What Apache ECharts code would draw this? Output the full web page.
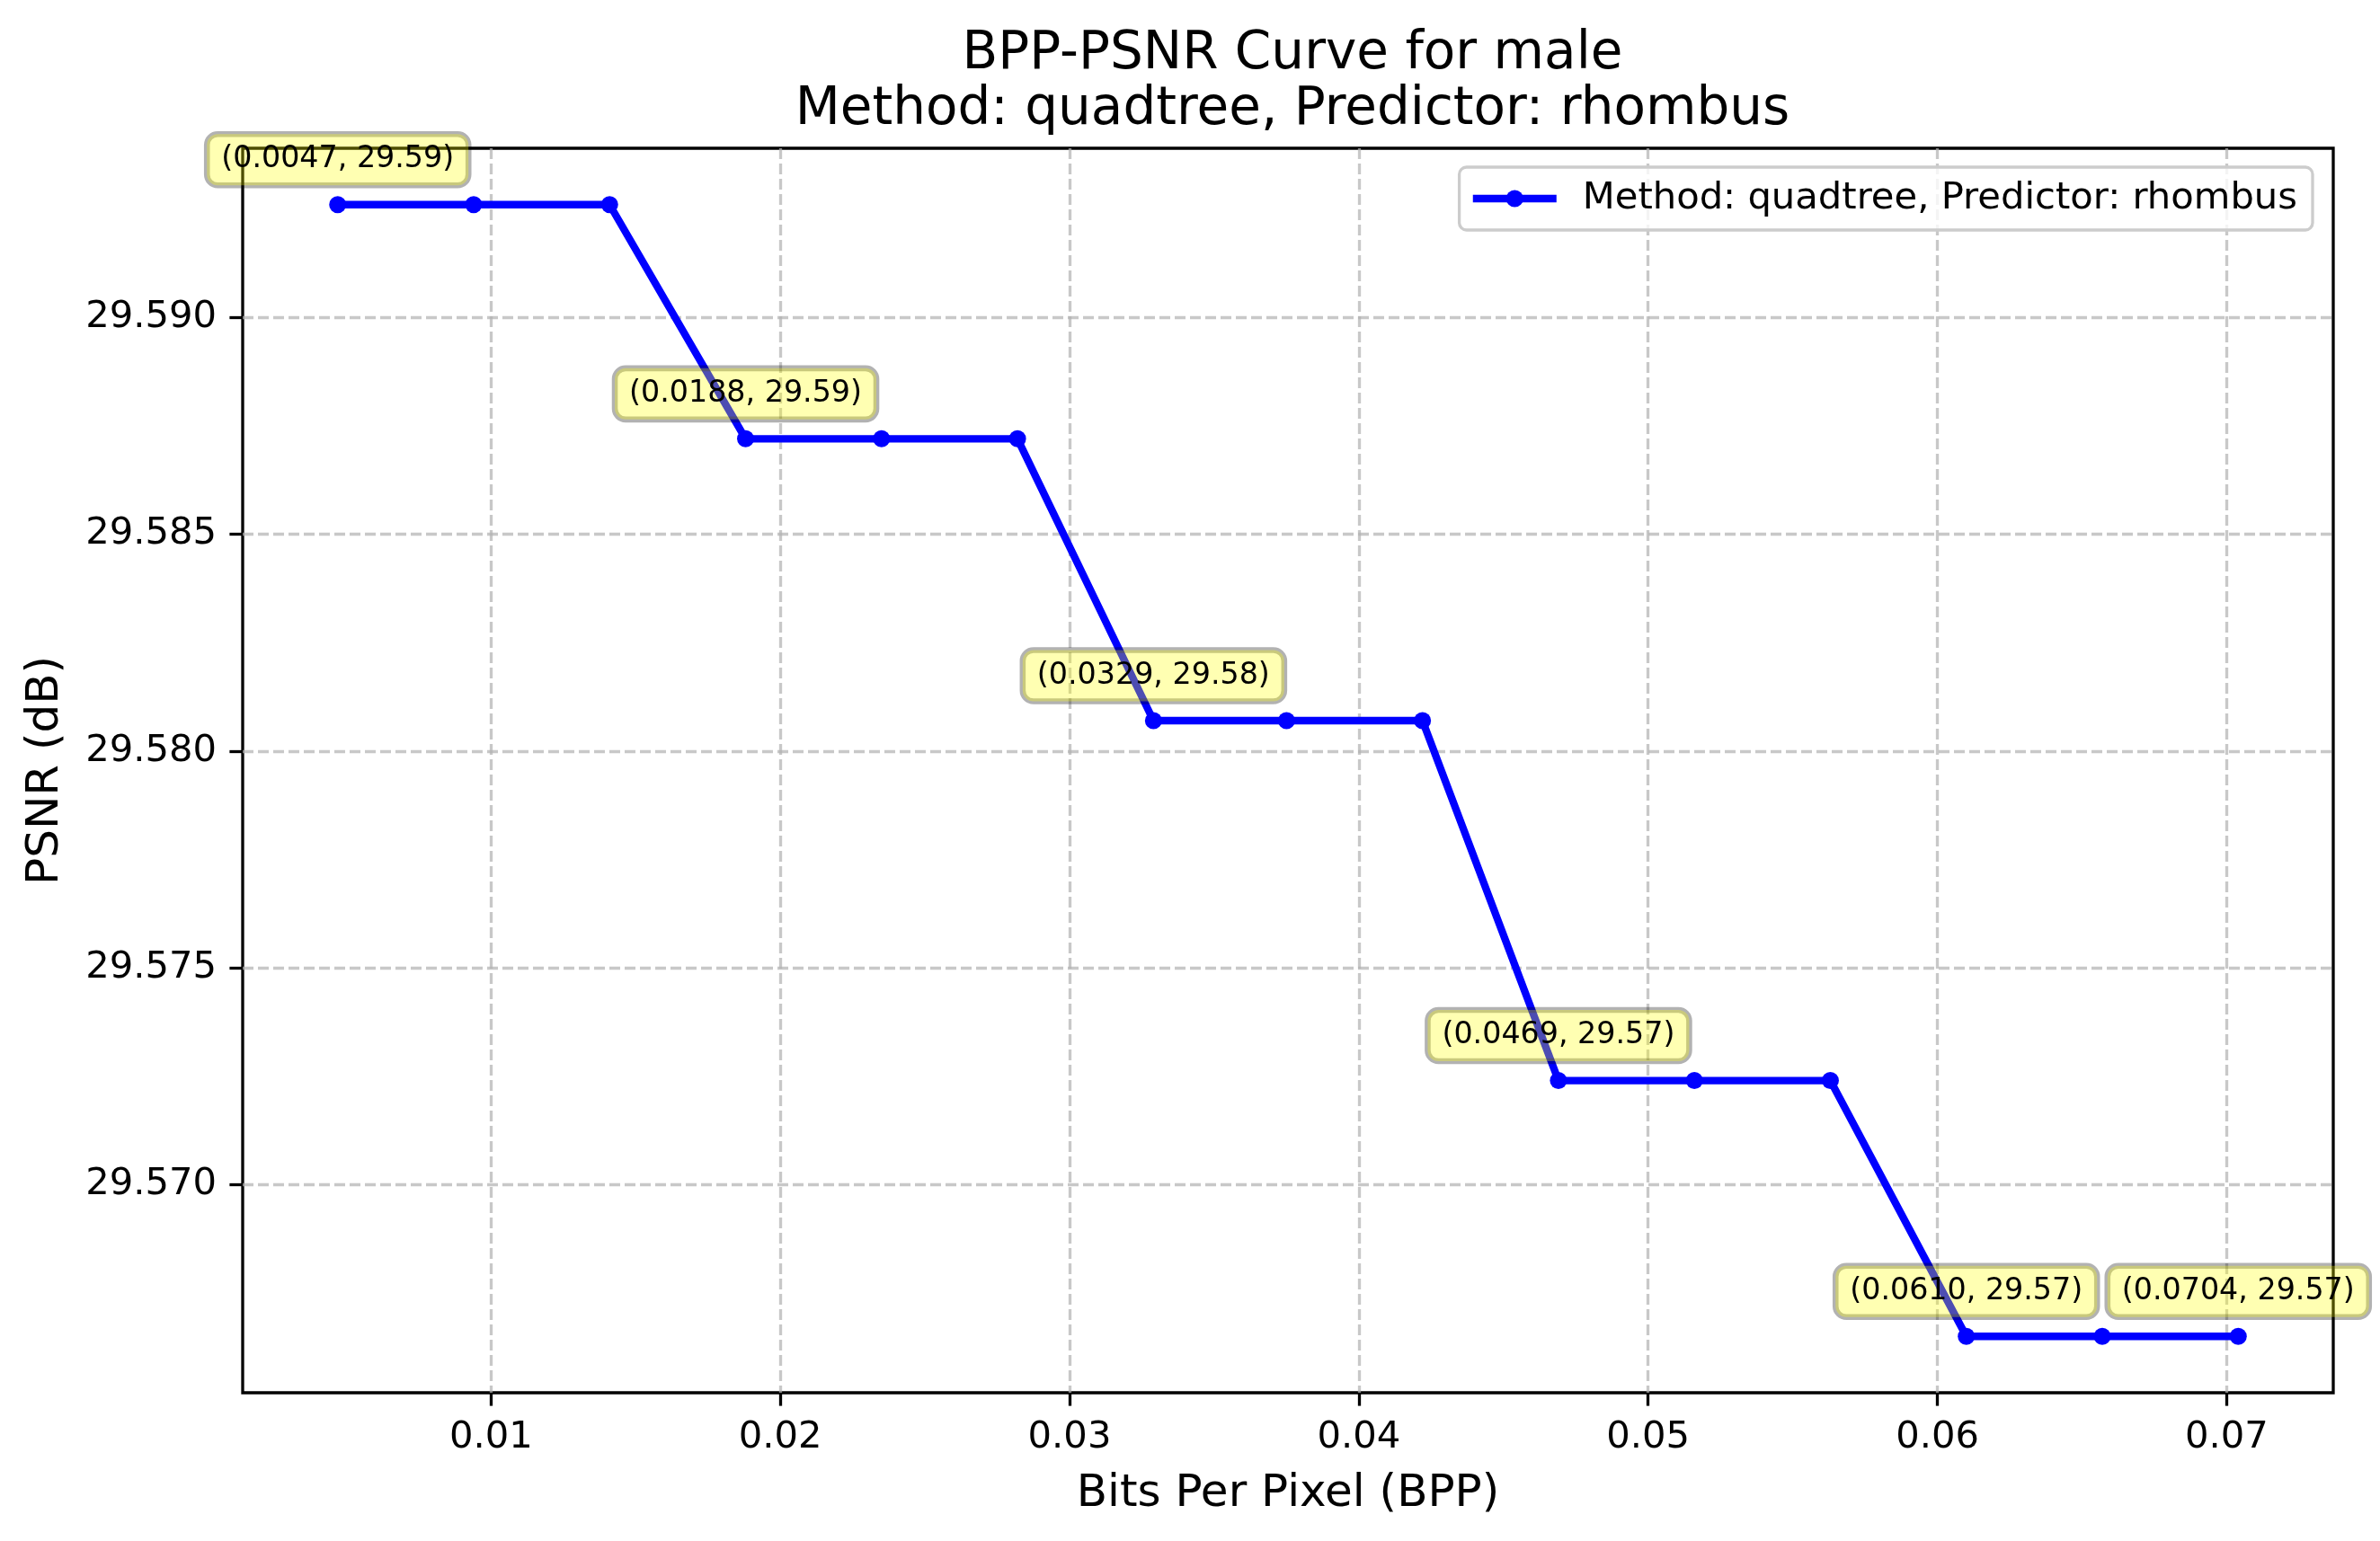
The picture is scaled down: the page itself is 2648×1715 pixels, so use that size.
<!DOCTYPE html>
<html>
<head>
<meta charset="utf-8">
<script src="https://cdn.jsdelivr.net/npm/echarts@6/dist/echarts.min.js"></script>
<style>
  body { margin: 0; background: #fff; }
  #chart { width: 2648px; height: 1715px; }
</style>
</head>
<body>
<div id="chart"></div>
<script>
const bpp = [0.0047, 0.0094, 0.0141, 0.0188, 0.0235, 0.0282, 0.0329, 0.0375, 0.0422,
  0.0469, 0.0516, 0.0563, 0.0610, 0.0657, 0.0704];
const psnr = [29.5926, 29.5926, 29.5926, 29.5872, 29.5872, 29.5872, 29.5807, 29.5807, 29.5807,
  29.5724, 29.5724, 29.5724, 29.5665, 29.5665, 29.5665];
const annotated = [0, 3, 6, 9, 12, 14];
const xTicks = [0.01, 0.02, 0.03, 0.04, 0.05, 0.06, 0.07];
const yTicks = [29.570, 29.575, 29.580, 29.585, 29.590];
const seriesName = 'Method: quadtree, Predictor: rhombus';

const font = 'DejaVu Sans';
const chart = echarts.init(document.getElementById('chart'));

const gridLine = { show: true, lineStyle: { color: 'rgba(176,176,176,0.7)', width: 3.3, type: [12, 5] } };
const tick = { show: true, inside: false, length: 14.6, lineStyle: { color: '#000', width: 3.3 } };

const data = bpp.map((x, i) => {
  const item = { value: [x, psnr[i]] };
  if (annotated.includes(i)) {
    item.label = {
      show: true,
      position: 'top',
      distance: 12,
      formatter: '(' + x.toFixed(4) + ', ' + psnr[i].toFixed(2) + ')',
      fontFamily: font,
      fontSize: 33.3,
      color: '#000',
      backgroundColor: 'rgba(255,255,0,0.3)',
      borderColor: 'rgba(0,0,0,0.3)',
      borderWidth: 3.3,
      borderRadius: 12,
      padding: [12, 16]
    };
  }
  return item;
});

const option = {
  animation: false,
  backgroundColor: '#fff',
  title: {
    text: 'BPP-PSNR Curve for male\nMethod: quadtree, Predictor: rhombus',
    left: 1433,
    top: 25,
    textAlign: 'center',
    textStyle: { fontFamily: font, fontSize: 58, fontWeight: 'normal', color: '#000', lineHeight: 62 }
  },
  legend: {
    right: 75,
    top: 186,
    padding: [14, 17, 14, 11],
    itemWidth: 93,
    itemHeight: 24,
    lineStyle: { width: 8.3 },
    backgroundColor: 'rgba(255,255,255,0.8)',
    borderColor: '#cccccc',
    borderWidth: 3.3,
    borderRadius: 8,
    textStyle: { fontFamily: font, fontSize: 41.7, color: '#000', padding: [0, 0, 0, 24] },
    data: [seriesName]
  },
  grid: {
    left: 270, right: 52, top: 165, bottom: 165,
    show: true, borderColor: '#000', borderWidth: 3.3
  },
  xAxis: {
    type: 'value',
    min: 0.001415,
    max: 0.073685,
    name: 'Bits Per Pixel (BPP)',
    nameLocation: 'middle',
    nameGap: 88,
    nameTextStyle: { fontFamily: font, fontSize: 50, color: '#000' },
    axisLine: { show: false },
    axisTick: Object.assign({ customValues: xTicks }, tick),
    axisLabel: {
      customValues: xTicks,
      margin: 29,
      fontFamily: font, fontSize: 41.7, color: '#000',
      formatter: v => String(+v.toFixed(2))
    },
    splitLine: gridLine
  },
  yAxis: {
    type: 'value',
    min: 29.5652,
    max: 29.5939,
    name: 'PSNR (dB)',
    nameLocation: 'middle',
    nameGap: 194,
    nameTextStyle: { fontFamily: font, fontSize: 50, color: '#000' },
    axisLine: { show: false },
    axisTick: Object.assign({ customValues: yTicks }, tick),
    axisLabel: {
      customValues: yTicks,
      margin: 29,
      fontFamily: font, fontSize: 41.7, color: '#000',
      formatter: v => v.toFixed(3)
    },
    splitLine: gridLine
  },
  series: [{
    name: seriesName,
    type: 'line',
    data: data,
    symbol: 'circle',
    symbolSize: 19,
    color: '#0000ff',
    lineStyle: { color: '#0000ff', width: 8.3 },
    itemStyle: { color: '#0000ff' },
    emphasis: { disabled: true }
  }]
};

chart.setOption(option);
</script>
</body>
</html>
